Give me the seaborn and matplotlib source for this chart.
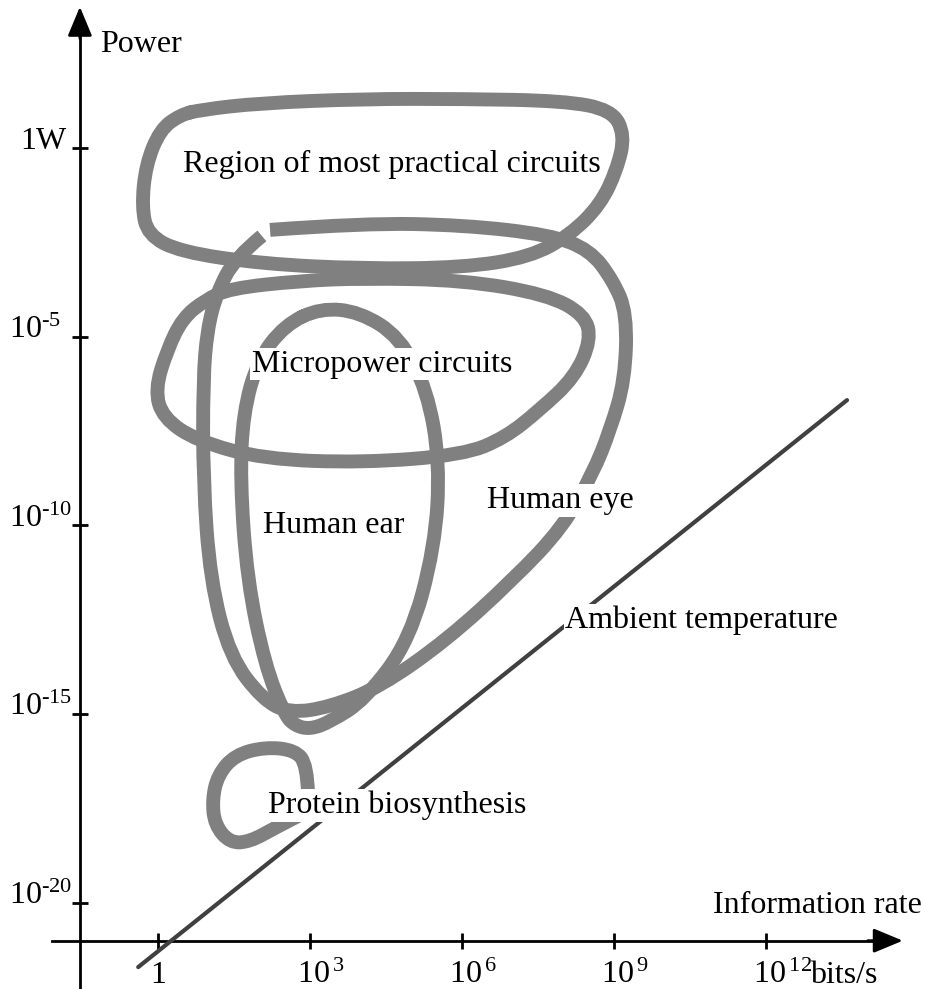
import numpy as np
import matplotlib
matplotlib.use('Agg')
import matplotlib.pyplot as plt
from matplotlib.path import Path
from matplotlib.patches import PathPatch
import seaborn as sns

# everything is in log10 units: x = log10(bits/s), y = log10(W)
x_ticks = [0, 3, 6, 9, 12]
x_tick_labels = ['1', r'$\mathregular{10^{\,3}}$', r'$\mathregular{10^{\,6}}$',
                 r'$\mathregular{10^{\,9}}$', r'$\mathregular{10^{\,12}}$']
y_ticks = [0, -5, -10, -15, -20]
y_tick_labels = ['1W', '$\\mathregular{10^{\u20105}}$', '$\\mathregular{10^{\u201010}}$',
                 '$\\mathregular{10^{\u201015}}$', '$\\mathregular{10^{\u201020}}$']

# region outlines
practical_x = [0.83, 2.01, 4.04, 6.02, 7.99, 8.95, 9.21, 9.05, 8.72, 8.13,
               7.34, 6.02, 4.04, 2.07, 0.43, -0.20, -0.32, -0.24, 0.04, 0.43]
practical_y = [1.01, 1.19, 1.30, 1.30, 1.25, 1.01, 0.34, -0.58, -1.51, -2.30,
               -2.89, -3.17, -3.20, -3.07, -2.75, -2.30, -1.56, -0.45, 0.48, 0.87]

eye_x = [2.21, 4.04, 6.02, 7.73, 8.52, 8.97, 9.25, 9.21, 8.92, 8.58, 7.99, 7.00,
         5.70, 4.38, 3.39, 2.60, 2.07, 1.42, 1.03, 0.89, 0.89, 0.97, 1.16, 1.52, 2.05]
eye_y = [-2.17, -1.99, -2.04, -2.30, -2.70, -3.50, -4.37, -6.15, -7.47, -8.61,
         -10.04, -11.44, -13.03, -14.28, -14.81, -14.97, -14.62, -13.48, -11.44,
         -8.79, -6.15, -4.82, -3.84, -2.91, -2.33]

micro_x = [1.42, 2.80, 4.04, 6.02, 7.67, 8.42, 8.54, 8.22, 7.53, 6.84, 6.02, 4.04,
           2.07, 0.77, 0.10, -0.06, 0.18, 0.49, 0.93]
micro_y = [-3.72, -3.52, -3.45, -3.50, -3.88, -4.42, -5.09, -6.07, -6.94, -7.68,
           -8.13, -8.34, -8.24, -7.76, -7.15, -6.41, -5.35, -4.50, -4.03]

ear_x = [3.20, 3.98, 4.77, 5.31, 5.56, 5.46, 4.97, 4.08, 3.40, 3.00, 2.70, 2.50,
         2.11, 1.76, 1.62, 1.68, 1.97, 2.50]
ear_y = [-4.24, -4.34, -5.01, -6.41, -8.34, -10.57, -13.03, -14.62, -15.20, -15.40,
         -15.30, -15.02, -13.70, -11.44, -8.79, -7.02, -5.62, -4.69]

protein_x = [2.96, 2.94, 2.70, 2.11, 1.52, 1.18, 1.07, 1.12, 1.42, 1.81, 2.31, 2.80]
protein_y = [-17.10, -16.34, -15.95, -15.87, -16.08, -16.61, -17.27, -17.93,
             -18.41, -18.38, -18.01, -17.67]

# kT ln2 per bit at room temperature
ambient_x = [-0.39, 13.59]
ambient_y = [-21.70, -6.68]

region_names = ['Region of most practical circuits', 'Micropower circuits',
                'Human ear', 'Human eye', 'Ambient temperature', 'Protein biosynthesis']
region_label_x = [0.49, 1.85, 2.07, 6.49, 8.03, 2.17]
region_label_y = [-0.64, -5.93, -10.20, -9.54, -12.72, -17.62]


def outline(xs, ys, closed=True):
    # quadratic b-spline through the read points, drawn by matplotlib's Path
    pts = np.column_stack([xs, ys])
    if closed:
        mids = (pts + np.roll(pts, -1, axis=0)) / 2
        verts = [mids[-1]]
        codes = [Path.MOVETO]
        for p, m in zip(pts, mids):
            verts += [p, m]
            codes += [Path.CURVE3, Path.CURVE3]
    else:
        verts = [pts[0]]
        codes = [Path.MOVETO]
        for i in range(1, len(pts) - 1):
            end = pts[-1] if i == len(pts) - 2 else (pts[i] + pts[i + 1]) / 2
            verts += [pts[i], end]
            codes += [Path.CURVE3, Path.CURVE3]
    return Path(verts, codes)


sns.set_theme(style='white')
plt.rcParams['font.family'] = ['Liberation Serif', 'DejaVu Serif']
plt.rcParams['mathtext.fontset'] = 'custom'
plt.rcParams['mathtext.rm'] = 'Liberation Serif'
plt.rcParams['text.color'] = 'black'

FS = 23
grey = '#808080'

fig = plt.figure(figsize=(9.26, 9.89), dpi=100)
ax = fig.add_axes([0, 0, 1, 1])
ax.set_xlim(-3.116, 15.148)
ax.set_ylim(-22.28, 3.92)
ax.patch.set_alpha(0)

for xs, ys, closed, cap in [(practical_x, practical_y, True, 'round'),
                            (micro_x, micro_y, True, 'round'),
                            (ear_x, ear_y, True, 'round'),
                            (eye_x, eye_y, False, 'butt'),
                            (protein_x, protein_y, False, 'butt')]:
    ax.add_patch(PathPatch(outline(xs, ys, closed), fill=False, edgecolor=grey,
                           lw=10, capstyle=cap, joinstyle='round', zorder=2))

sns.lineplot(x=ambient_x, y=ambient_y, color='#404040', lw=3, ax=ax, zorder=3)

# axes with arrows
for side in ['top', 'right']:
    ax.spines[side].set_visible(False)
ax.spines['left'].set_position(('data', -1.54))
ax.spines['bottom'].set_position(('data', -21))
ax.spines['left'].set_bounds(-22.28, 3.2)
ax.spines['bottom'].set_bounds(-2.09, 14.3)
for side in ['left', 'bottom']:
    ax.spines[side].set_color('black')
    ax.spines[side].set_linewidth(2)
ax.set_xticks(x_ticks)
ax.set_yticks(y_ticks)
ax.set_xticklabels([])
ax.set_yticklabels([])
ax.tick_params(direction='inout', length=11, width=2, color='black',
               bottom=True, left=True)
ax.grid(False)

arrow = dict(arrowstyle='-|>,head_length=1.8,head_width=0.75', mutation_scale=10,
             color='black', lw=2, shrinkA=0, shrinkB=0)
ax.annotate('', xy=(14.69, -21), xytext=(14.0, -21), arrowprops=arrow)
ax.annotate('', xy=(-1.54, 3.74), xytext=(-1.54, 2.9), arrowprops=arrow)

# tick labels
for xv, lab in zip(x_ticks, x_tick_labels):
    if lab == '1':
        ax.text(xv, -22.12, lab, fontsize=FS, ha='center', va='baseline')
    else:
        ax.annotate(lab, xy=(xv, -22.12), xytext=(-9.4, 0), textcoords='offset points',
                    fontsize=FS, ha='left', va='baseline')
ax.text(12.86, -22.12, 'bits/s', fontsize=FS, ha='left', va='baseline')

for yv, lab in zip(y_ticks, y_tick_labels):
    xl = -2.72 if lab == '1W' else -2.94
    ax.text(xl, yv - 0.03, lab, fontsize=FS, ha='left', va='baseline')

ax.text(-1.14, 2.54, 'Power', fontsize=FS, ha='left', va='baseline')
ax.text(10.95, -20.26, 'Information rate', fontsize=FS, ha='left', va='baseline')

for name, lx, ly in zip(region_names, region_label_x, region_label_y):
    ax.text(lx, ly, name, fontsize=FS, ha='left', va='baseline', zorder=5,
            bbox=dict(facecolor='white', edgecolor='none', boxstyle='square,pad=0.05'))

plt.savefig('out.png', dpi=100)
